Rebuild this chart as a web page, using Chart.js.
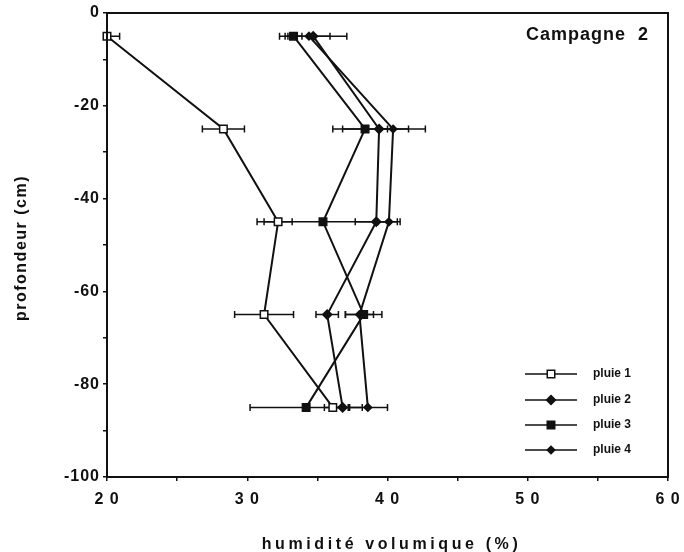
<!DOCTYPE html>
<html>
<head>
<meta charset="utf-8">
<script src="https://cdn.jsdelivr.net/npm/chart.js@4.4.0/dist/chart.umd.min.js"></script>
<style>
	html, body { margin: 0; padding: 0; background: #fff; }
	.container_ { width: 684px; height: 552px; }
</style>
</head>
<body>
<div class="container_"><canvas id="profil"></canvas></div>
<script>
// profondeurs (cm) et humidites
const depths = [-5, -25, -45, -65, -85]
const pluie1 = [20.0, 28.3, 32.2, 31.2, 36.1]
const pluie2 = [34.7, 39.4, 39.2, 35.7, 36.8]
const pluie3 = [33.3, 38.4, 35.4, 38.3, 34.2]
const pluie4 = [34.4, 40.4, 40.1, 38.0, 38.6]
// demi-largeur des barres d'erreur
const err1 = [0.9, 1.5, 1.0, 2.1, 0.6]
const err2 = [2.4, 3.3, 1.5, 0.8, 0.5]
const err3 = [0.6, 1.6, 4.7, 1.3, 4.0]
const err4 = [1.5, 1.1, 0.8, 1.0, 1.4]
const seriesNames = ['pluie 1', 'pluie 2', 'pluie 3', 'pluie 4']

const xTicks = [20, 30, 40, 50, 60]
const xTickLabels = ['2 0', '3 0', '4 0', '5 0', '6 0']
const yTicks = [0, -20, -40, -60, -80, -100]
const yTickLabels = ['0', '-20', '-40', '-60', '-80', '-100']

const family = "'Liberation Sans', Arial, sans-serif"
const ink = '#111'

function makeSet(name, values, errors, style, fill, radius) {
	return {
		label: name,
		data: depths.map((d, i) => ({ x: values[i], y: d })),
		errors: errors,
		showLine: true,
		borderColor: ink,
		borderWidth: 2,
		pointStyle: style,
		pointRadius: radius,
		pointBorderWidth: 1.5,
		pointBorderColor: ink,
		pointBackgroundColor: fill,
		clip: 12,
	}
}

const datasets = [
	makeSet(seriesNames[0], pluie1, err1, 'rect', '#fff', 5.3),
	makeSet(seriesNames[1], pluie2, err2, 'rectRot', ink, 4.5),
	makeSet(seriesNames[2], pluie3, err3, 'rect', ink, 5.3),
	makeSet(seriesNames[3], pluie4, err4, 'rectRot', ink, 3.8),
]

function drawMarker(ctx, ds, x, y) {
	const r = ds.pointRadius
	ctx.fillStyle = ds.pointBackgroundColor
	ctx.strokeStyle = ink
	ctx.lineWidth = 1.5
	ctx.beginPath()
	if (ds.pointStyle === 'rect') {
		const h = r * Math.SQRT1_2
		ctx.rect(x - h, y - h, 2 * h, 2 * h)
	} else {
		ctx.moveTo(x, y - r); ctx.lineTo(x + r, y); ctx.lineTo(x, y + r); ctx.lineTo(x - r, y); ctx.closePath()
	}
	ctx.fill()
	ctx.stroke()
}

const errorBars = {
	id: 'errorBars',
	beforeDatasetsDraw(chart) {
		const { ctx, chartArea: a, scales: { x, y } } = chart
		ctx.save()
		ctx.beginPath()
		ctx.rect(a.left, a.top, a.right - a.left, a.bottom - a.top)
		ctx.clip()
		ctx.strokeStyle = ink
		ctx.lineWidth = 1.5
		chart.data.datasets.forEach(ds => {
			ds.data.forEach((p, i) => {
				const py = y.getPixelForValue(p.y)
				const x0 = x.getPixelForValue(p.x - ds.errors[i])
				const x1 = x.getPixelForValue(p.x + ds.errors[i])
				ctx.beginPath()
				ctx.moveTo(x0, py); ctx.lineTo(x1, py)
				ctx.moveTo(x0, py - 3.5); ctx.lineTo(x0, py + 3.5)
				ctx.moveTo(x1, py - 3.5); ctx.lineTo(x1, py + 3.5)
				ctx.stroke()
			})
		})
		ctx.restore()
	}
}

const decorations = {
	id: 'decorations',
	beforeDraw(chart) {
		chart.ctx.letterSpacing = '1px'
	},
	afterDraw(chart) {
		const { ctx, chartArea: a } = chart
		ctx.save()
		ctx.strokeStyle = ink
		ctx.lineWidth = 2
		ctx.strokeRect(a.left, a.top, a.right - a.left, a.bottom - a.top)

		ctx.fillStyle = ink
		ctx.textBaseline = 'middle'
		ctx.font = 'bold 18px ' + family
		ctx.letterSpacing = '1px'
		ctx.textAlign = 'right'
		ctx.fillText('Campagne  2', a.right - 19, a.top + 22)

		ctx.font = 'bold 16px ' + family
		ctx.letterSpacing = '3.6px'
		ctx.textAlign = 'center'
		ctx.fillText('humidité volumique (%)', (a.left + a.right) / 2 + 4, 545)
		ctx.save()
		ctx.translate(22, (a.top + a.bottom) / 2 + 3)
		ctx.rotate(-Math.PI / 2)
		ctx.letterSpacing = '1.5px'
		ctx.fillText('profondeur (cm)', 0, 0)
		ctx.restore()

		// legende
		const rows = [a.bottom - 103, a.bottom - 77, a.bottom - 52, a.bottom - 27]
		ctx.font = 'bold 12px ' + family
		ctx.letterSpacing = '0px'
		ctx.textAlign = 'left'
		chart.data.datasets.forEach((ds, i) => {
			const ly = rows[i]
			ctx.strokeStyle = ink
			ctx.lineWidth = 1.3
			ctx.beginPath()
			ctx.moveTo(a.right - 143, ly); ctx.lineTo(a.right - 91, ly)
			ctx.stroke()
			drawMarker(ctx, ds, a.right - 117, ly)
			ctx.fillStyle = ink
			ctx.fillText(ds.label, a.right - 75, ly)
		})
		ctx.restore()
	}
}

new Chart(document.getElementById('profil'), {
	type: 'scatter',
	data: { datasets: datasets },
	options: {
		responsive: true,
		maintainAspectRatio: false,
		animation: false,
		layout: { padding: { top: 13, right: 16, left: 0, bottom: 0 } },
		plugins: {
			legend: { display: false },
			tooltip: { enabled: false },
		},
		scales: {
			x: {
				type: 'linear',
				min: 20,
				max: 60,
				border: { color: ink, width: 2 },
				grid: { drawOnChartArea: false, color: ink, lineWidth: 1.5, tickLength: 4 },
				ticks: {
					stepSize: 5,
					autoSkip: false,
					maxRotation: 0,
					padding: 9,
					color: ink,
					font: { family: family, size: 16, weight: 'bold' },
					callback: v => {
						const k = xTicks.indexOf(v)
						return k >= 0 ? xTickLabels[k] : ''
					},
				},
				afterFit: s => {
					s.height = 75
					s.paddingLeft = 0
					s.paddingRight = 0
				},
			},
			y: {
				type: 'linear',
				min: -100,
				max: 0,
				border: { color: ink, width: 2 },
				grid: { drawOnChartArea: false, color: ink, lineWidth: 1.5, tickLength: 4 },
				ticks: {
					stepSize: 10,
					autoSkip: false,
					padding: 3,
					color: ink,
					font: { family: family, size: 16, weight: 'bold' },
					callback: v => {
						const k = yTicks.indexOf(v)
						return k >= 0 ? yTickLabels[k] : ''
					},
				},
				afterFit: s => {
					s.width = 107
					s.paddingTop = 0
					s.paddingBottom = 0
				},
			},
		},
	},
	plugins: [errorBars, decorations],
})
</script>
</body>
</html>
